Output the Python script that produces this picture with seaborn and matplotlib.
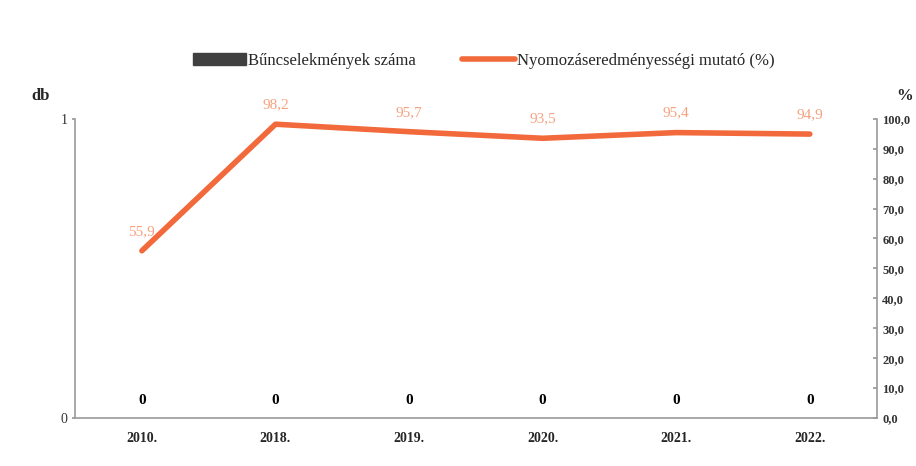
import numpy as np
import pandas as pd
import seaborn as sns
import matplotlib.pyplot as plt
from matplotlib.patches import Patch
from matplotlib.lines import Line2D

plt.switch_backend("Agg")

# data
years = ["2010.", "2018.", "2019.", "2020.", "2021.", "2022."]
crimes = [0, 0, 0, 0, 0, 0]
success_rate = [55.9, 98.2, 95.7, 93.5, 95.4, 94.9]

bar_color = "#404040"
line_color = "#F26A3C"
label_color = "#F5A27F"
axis_color = "#9a9a9a"

sns.set_theme(style="white")
plt.rcParams["font.family"] = ["Liberation Serif", "DejaVu Serif"]

df = pd.DataFrame({"ev": years, "db": crimes, "pct": success_rate})
df["pos"] = np.arange(len(df))

fig = plt.figure(figsize=(9.16, 4.66), dpi=100)
ax = fig.add_axes([0.082, 0.103, 0.875, 0.642])

sns.barplot(data=df, x="ev", y="db", color=bar_color, width=0.5, ax=ax)
ax.set_ylim(0, 1)
ax.set_yticks([0, 1])
ax.set_yticklabels(["0", "1"], fontsize=10, color="#333333")
ax.tick_params(axis="y", length=2, color=axis_color)
ax.set_xlabel("")
ax.set_ylabel("")
ax.tick_params(axis="x", length=0, pad=10)
for lab in ax.get_xticklabels():
    lab.set_fontweight("bold")
    lab.set_fontsize(10)
for s in ["top", "right"]:
    ax.spines[s].set_visible(False)
for s in ["left", "bottom"]:
    ax.spines[s].set_color(axis_color)
    ax.spines[s].set_linewidth(1.2)

# zero labels for the bars
for i, v in enumerate(df["db"]):
    ax.text(i, v + 0.06, f"{v}", ha="center", va="center",
            fontsize=11, fontweight="bold", color="black")

ax2 = ax.twinx()
sns.lineplot(data=df, x="pos", y="pct", color=line_color, linewidth=4,
             ax=ax2, legend=False)
ax2.set_ylim(0, 100)
ax2.set_yticks(np.arange(0, 101, 10))
ax2.set_yticklabels([f"{t:.1f}".replace(".", ",") for t in range(0, 101, 10)],
                    fontsize=9, fontweight="bold", color="#333333")
ax2.tick_params(axis="y", length=3, color=axis_color, pad=4, direction="in")
ax2.set_ylabel("")
ax2.set_xlabel("")
ax2.set_xlim(-0.5, len(df) - 0.5)
ax.set_xlim(-0.5, len(df) - 0.5)
for s in ["top", "left", "bottom"]:
    ax2.spines[s].set_visible(False)
ax2.spines["right"].set_color(axis_color)
ax2.spines["right"].set_linewidth(1.2)

for i, v in enumerate(df["pct"]):
    ax2.text(i, v + 6.5, f"{v:.1f}".replace(".", ","), ha="center", va="center",
             fontsize=11, color=label_color)

fig.text(0.044, 0.785, "db", fontsize=12, fontweight="bold", ha="center")
fig.text(0.987, 0.785, "%", fontsize=12, fontweight="bold", ha="center")

handles = [Patch(color=bar_color), Line2D([0], [0], color=line_color, lw=4)]
fig.legend(handles, ["Bűncselekmények száma", "Nyomozáseredményességi mutató (%)"],
           loc="center", bbox_to_anchor=(0.528, 0.87), ncol=2, frameon=False,
           fontsize=12, handlelength=3.2, columnspacing=2.8, handletextpad=0.1)

fig.savefig("out.png", dpi=100)
